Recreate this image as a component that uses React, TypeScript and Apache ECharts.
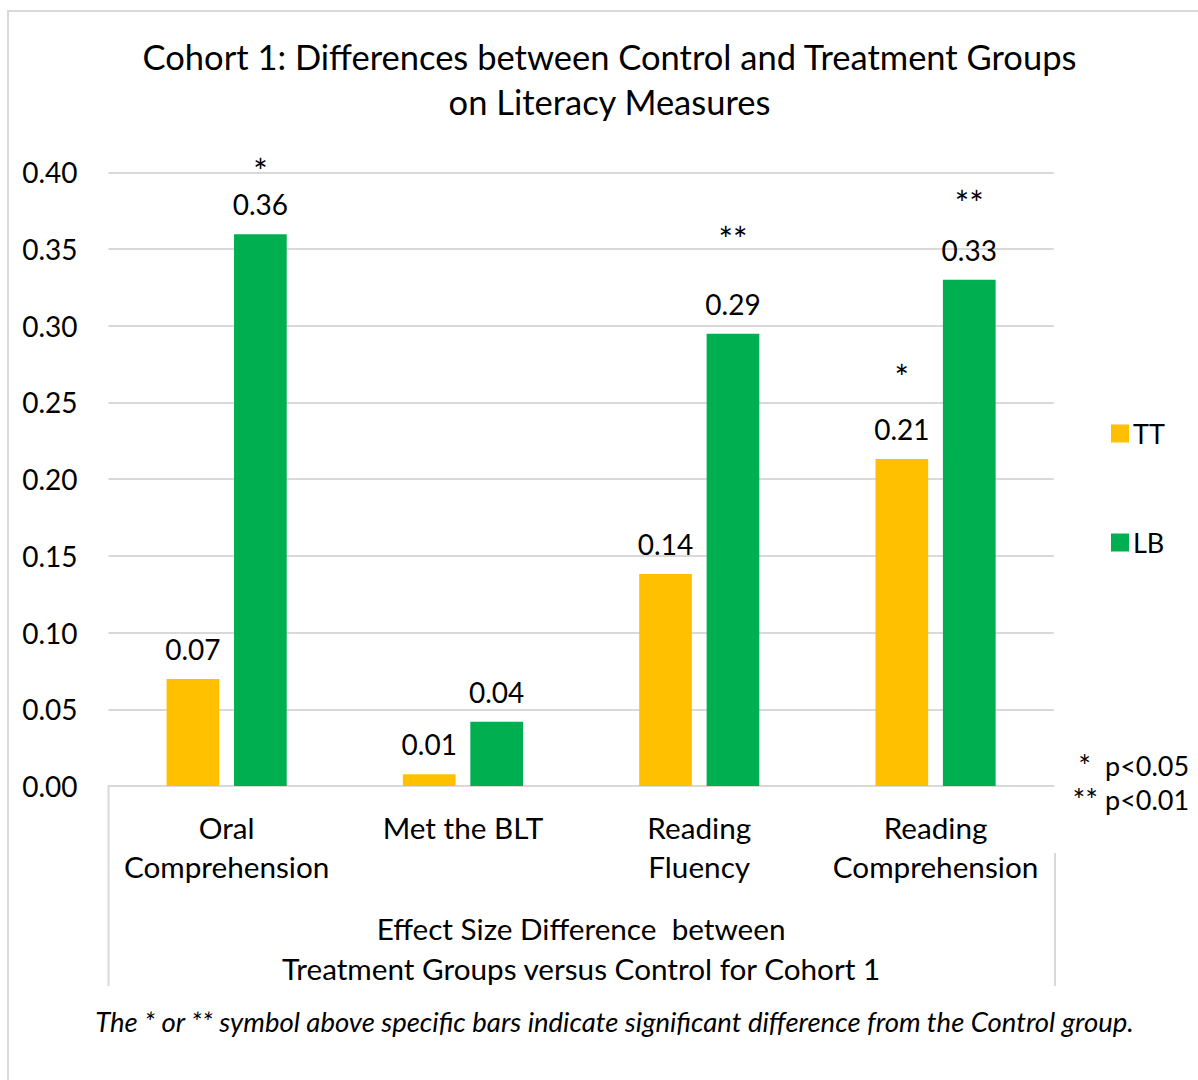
import React, { useEffect, useRef } from "react";
import * as echarts from "echarts";

// Effect size differences for Cohort 1, by measure
const categories = ["Oral\nComprehension", "Met the BLT", "Reading\nFluency", "Reading\nComprehension"];
const seriesNames = ["TT", "LB"];
const ttValues = [0.0698, 0.0076, 0.1382, 0.2132];
const lbValues = [0.3596, 0.0419, 0.2947, 0.3299];
// significance markers shown above bars
const ttStars = ["", "", "", "*"];
const lbStars = ["*", "", "**", "**"];
const legendNotes = [
  ["*", "p<0.05"],
  ["**", "p<0.01"],
];
const titleLines = ["Cohort 1: Differences between Control and Treatment Groups", "on Literacy Measures"];
const axisTitle = "Effect Size Difference  between\nTreatment Groups versus Control for Cohort 1";
const footnote = "The * or ** symbol above specific bars indicate significant difference from the Control group.";

const FONT = "Lato, 'Noto Sans', sans-serif";
const COLORS = ["#FFC000", "#00B050"];
const GRID_COLOR = "#D9D9D9";
const VALUE_LINE = 34;
const STAR_SIZE = 34;
// vertical distance between a star and its value label, per bar
const ttStarGap = [0, 0, 0, 52];
const lbStarGap = [31, 0, 65, 47];

function buildData(values: number[], stars: string[], gaps: number[]) {
  return values.map((v, i) => {
    if (!stars[i]) return { value: v };
    return {
      value: v,
      label: {
        formatter: `{s|${stars[i]}}\n{v|${v.toFixed(2)}}`,
        rich: {
          s: {
            fontSize: STAR_SIZE,
            fontFamily: FONT,
            color: "#000",
            lineHeight: Math.max(2 * gaps[i] - VALUE_LINE, STAR_SIZE),
          },
          v: { fontSize: 28, fontFamily: FONT, color: "#000", lineHeight: VALUE_LINE },
        },
      },
    };
  });
}

export default function App() {
  const ref = useRef<HTMLDivElement>(null);

  useEffect(() => {
    if (!ref.current) return;
    const chart = echarts.init(ref.current, undefined, { renderer: "svg" });

    const barLabel = {
      show: true,
      position: "top",
      distance: 13,
      formatter: (p: any) => `{v|${Number(p.value).toFixed(2)}}`,
      rich: {
        v: { fontSize: 28, fontFamily: FONT, color: "#000", lineHeight: VALUE_LINE },
      },
    };

    const option: any = {
      animation: false,
      backgroundColor: "#fff",
      textStyle: { fontFamily: FONT },
      grid: { left: 108.5, right: 144.3, top: 172.3, bottom: 294, containLabel: false },
      legend: {
        orient: "vertical",
        left: 1106,
        top: 415,
        itemWidth: 18,
        itemHeight: 18,
        itemGap: 82,
        icon: "rect",
        textStyle: { fontSize: 27, fontFamily: FONT, color: "#000", padding: [0, 0, 0, -1] },
        data: seriesNames,
      },
      xAxis: {
        type: "category",
        data: categories,
        axisLine: { show: true, lineStyle: { color: GRID_COLOR, width: 2 } },
        axisTick: { show: false },
        axisLabel: {
          fontSize: 29.7,
          fontFamily: FONT,
          color: "#000",
          lineHeight: 39,
          margin: 22,
          interval: 0,
        },
        name: axisTitle,
        nameLocation: "middle",
        nameGap: 122,
        nameTextStyle: { fontSize: 29.7, fontFamily: FONT, color: "#000", lineHeight: 40, verticalAlign: "top" },
      },
      yAxis: {
        type: "value",
        min: 0,
        max: 0.4,
        interval: 0.05,
        axisLine: { show: false },
        axisTick: { show: false },
        splitLine: { lineStyle: { color: GRID_COLOR, width: 2 } },
        axisLabel: {
          fontSize: 28,
          fontFamily: FONT,
          color: "#000",
          margin: 31,
          formatter: (v: number) => v.toFixed(2),
        },
      },
      series: [
        {
          name: seriesNames[0],
          type: "bar",
          data: buildData(ttValues, ttStars, ttStarGap),
          itemStyle: { color: COLORS[0] },
          barWidth: "22.3%",
          barGap: "28%",
          label: barLabel,
        },
        {
          name: seriesNames[1],
          type: "bar",
          data: buildData(lbValues, lbStars, lbStarGap),
          itemStyle: { color: COLORS[1] },
          barWidth: "22.3%",
          barGap: "28%",
          label: barLabel,
        },
      ],
      graphic: [
        {
          type: "rect",
          shape: { x: 8, y: 11, width: 1240, height: 1120 },
          style: { fill: "none", stroke: GRID_COLOR, lineWidth: 2 },
          silent: true,
          z: -1,
        },
        ...titleLines.map((t, i) => ({
          type: "text",
          x: 609.5,
          y: 56 + i * 45,
          style: {
            text: t,
            fontSize: 34.5,
            fontFamily: FONT,
            fill: "#000",
            textAlign: "center",
            textVerticalAlign: "middle",
          },
        })),
        {
          type: "line",
          shape: { x1: 108.5, y1: 786, x2: 108.5, y2: 986 },
          style: { stroke: GRID_COLOR, lineWidth: 2 },
        },
        {
          type: "line",
          shape: { x1: 1055, y1: 853, x2: 1055, y2: 986 },
          style: { stroke: GRID_COLOR, lineWidth: 2 },
        },
        ...legendNotes.flatMap(([mark, txt], i) => [
          {
            type: "text",
            x: i === 0 ? 1091 : 1098,
            y: 765 + i * 34,
            style: {
              text: mark,
              fontSize: 30,
              fontFamily: FONT,
              fill: "#000",
              textAlign: "right",
              textVerticalAlign: "middle",
            },
          },
          {
            type: "text",
            x: 1105,
            y: 765 + i * 34,
            style: {
              text: txt,
              fontSize: 27,
              fontFamily: FONT,
              fill: "#000",
              textAlign: "left",
              textVerticalAlign: "middle",
            },
          },
        ]),
        {
          type: "text",
          x: 614.5,
          y: 1021,
          style: {
            text: footnote,
            fontSize: 27.5,
            fontStyle: "italic",
            fontFamily: FONT,
            fill: "#000",
            textAlign: "center",
            textVerticalAlign: "middle",
          },
        },
      ],
    };

    chart.setOption(option);
    return () => chart.dispose();
  }, []);

  return (
    <div
      ref={ref}
      style={{ position: "fixed", left: 0, top: 0, width: 1198, height: 1080, background: "#fff" }}
    />
  );
}
